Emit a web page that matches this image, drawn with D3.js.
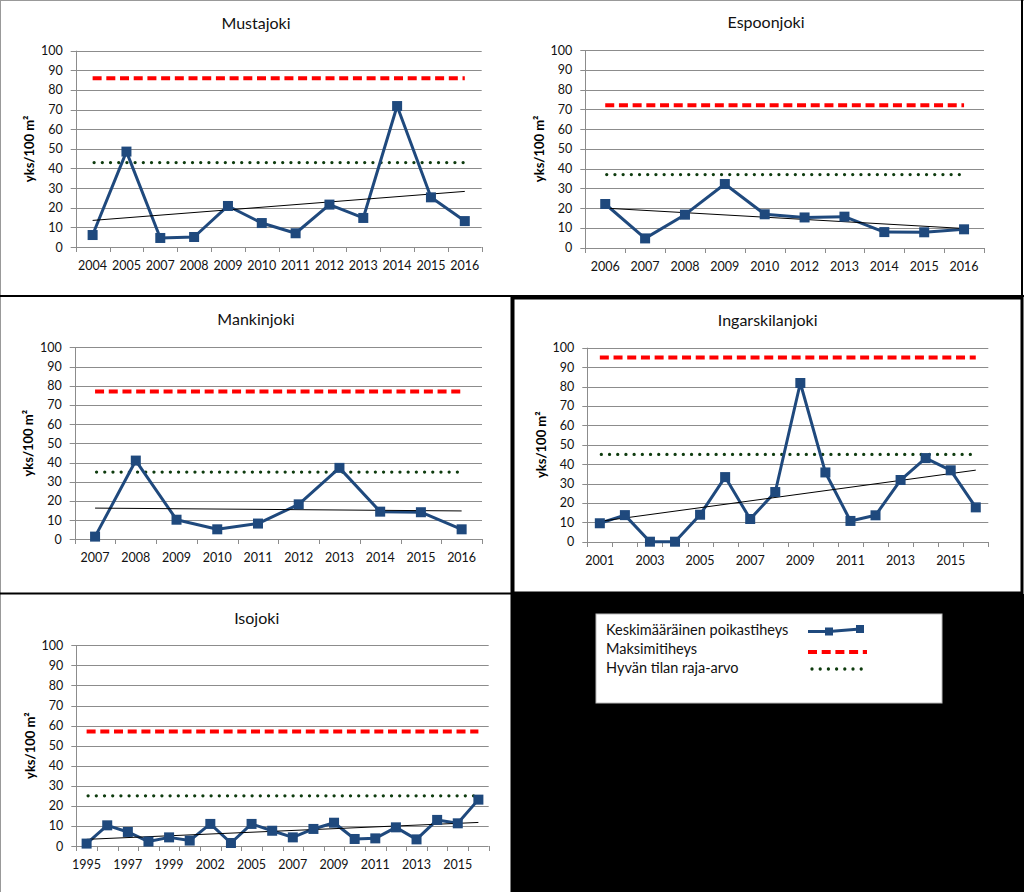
<!DOCTYPE html>
<html><head><meta charset="utf-8">
<script src="https://cdn.jsdelivr.net/npm/d3@7"></script>
<style>
body{margin:0;background:#fff;}
svg{display:block;font-family:Lato,'Open Sans',sans-serif;}
</style>
</head><body>
<svg id="c" width="1024" height="892"></svg>
<script>
// ---------- DATA ----------
const titles = ["Mustajoki","Espoonjoki","Mankinjoki","Ingarskilanjoki","Isojoki"];

const mustajokiYears  = ["2004","2005","2007","2008","2009","2010","2011","2012","2013","2014","2015","2016"];
const mustajokiValues = [6.1,48.6,4.6,5.1,20.9,12.2,7.0,21.6,14.8,71.8,25.3,13.2];

const espoonjokiYears  = ["2006","2007","2008","2009","2010","2012","2013","2014","2015","2016"];
const espoonjokiValues = [22.1,4.7,16.7,32.2,16.9,15.3,15.7,7.9,7.8,9.3];

const mankinjokiYears  = ["2007","2008","2009","2010","2011","2012","2013","2014","2015","2016"];
const mankinjokiValues = [1.4,41.0,10.2,5.2,8.2,18.2,37.2,14.4,14.1,5.2];

const ingarskilanjokiYears  = ["2001","2002","2003","2004","2005","2006","2007","2008","2009","2010","2011","2012","2013","2014","2015","2016"];
const ingarskilanjokiValues = [9.5,13.7,0,0,13.9,33.3,11.7,25.6,81.8,35.7,10.7,13.6,31.8,43.1,36.8,17.7];

const isojokiYears  = ["1995","1996","1997","1998","1999","2000","2002","2004","2005","2006","2007","2008","2009","2010","2011","2012","2013","2014","2015","2016"];
const isojokiValues = [1.2,10.3,7.0,2.2,4.3,2.7,11.0,1.5,11.0,7.6,4.3,8.5,11.6,3.5,3.8,9.3,3.3,13.0,11.3,23.1];

const maxDensity = [86, 72, 77, 95, 57];      // Maksimitiheys
const goodLimit  = [43, 37, 35, 45, 25];      // Hyvän tilan raja-arvo
const yTicks = [0,10,20,30,40,50,60,70,80,90,100];
const yTitle = "yks/100 m²";
const legendLabels = ["Keskimääräinen poikastiheys","Maksimitiheys","Hyvän tilan raja-arvo"];

const yearsList  = [mustajokiYears, espoonjokiYears, mankinjokiYears, ingarskilanjokiYears, isojokiYears];
const valuesList = [mustajokiValues, espoonjokiValues, mankinjokiValues, ingarskilanjokiValues, isojokiValues];

// ---------- LAYOUT / STYLE ----------
const layout = [
  {plot:{l:75.7,r:481.7,t:50.7,b:247},   title:[256,23],    labelEvery:1},
  {plot:{l:585.3,r:984,t:50,b:247.7},    title:[766,22],    labelEvery:1},
  {plot:{l:74.7,r:482,t:347.3,b:539.3},  title:[256,319],   labelEvery:1},
  {plot:{l:587.3,r:988.3,t:347.7,b:541.7},title:[767.7,320.7],labelEvery:2},
  {plot:{l:76.3,r:488.7,t:645.3,b:846},  title:[256.7,618], labelEvery:2}
];
const BLUE = "#1F497D", RED = "#FF0000", GREEN = "#0E3B0E", GRID = "#8C8C8C";

const svg = d3.select("#c");

// background frames
svg.append("rect").attr("x",0).attr("y",0).attr("width",1024).attr("height",892).attr("fill","#fff");
svg.append("rect").attr("x",512).attr("y",594).attr("width",512).attr("height",298).attr("fill","#000");

const frames = svg.append("g").attr("fill","none");
frames.append("line").attr("x1",0.5).attr("y1",0).attr("x2",0.5).attr("y2",892).attr("stroke","#999");
frames.append("line").attr("x1",0).attr("y1",0.5).attr("x2",1024).attr("y2",0.5).attr("stroke","#999");
frames.append("line").attr("x1",0).attr("y1",296).attr("x2",1024).attr("y2",296).attr("stroke","#000").attr("stroke-width",2);
frames.append("line").attr("x1",1022).attr("y1",0).attr("x2",1022).attr("y2",296).attr("stroke","#000").attr("stroke-width",2);
frames.append("line").attr("x1",511.5).attr("y1",296).attr("x2",511.5).attr("y2",892).attr("stroke","#000").attr("stroke-width",2);
frames.append("line").attr("x1",0).attr("y1",593.5).attr("x2",512).attr("y2",593.5).attr("stroke","#000").attr("stroke-width",2);
frames.append("rect").attr("x",513).attr("y",298).attr("width",509).attr("height",295).attr("stroke","#000").attr("stroke-width",3);

function drawPanel(i){
  const L = layout[i], p = L.plot;
  const years = yearsList[i], vals = valuesList[i];
  const g = svg.append("g");
  const x = d3.scaleBand().domain(years).range([p.l,p.r]).padding(0);
  const y = d3.scaleLinear().domain([0,100]).range([p.b,p.t]);
  const cx = d => x(d)+x.bandwidth()/2;

  g.append("g").selectAll("line").data(yTicks).join("line")
    .attr("x1",p.l-5).attr("x2",p.r).attr("y1",d=>Math.round(y(d))+0.5).attr("y2",d=>Math.round(y(d))+0.5)
    .attr("stroke",GRID).attr("stroke-width",1);
  g.append("line").attr("x1",Math.round(p.l)+0.5).attr("x2",Math.round(p.l)+0.5).attr("y1",p.t).attr("y2",p.b+0.5)
    .attr("stroke",GRID);
  const bounds = years.map(d=>x(d)).concat([p.r]);
  g.append("g").selectAll("line").data(bounds).join("line")
    .attr("x1",d=>Math.round(d)+0.5).attr("x2",d=>Math.round(d)+0.5)
    .attr("y1",Math.round(p.b)).attr("y2",Math.round(p.b)+5).attr("stroke",GRID);

  g.append("g").selectAll("text").data(yTicks).join("text")
    .attr("x",p.l-13).attr("y",d=>y(d)).attr("dy","0.36em").attr("text-anchor","end")
    .attr("font-size",12.5).attr("fill","#111").text(d=>d);
  g.append("g").selectAll("text").data(years.filter((d,k)=>k%L.labelEvery===0)).join("text")
    .attr("x",d=>cx(d)).attr("y",p.b+18.3).attr("dy","0.36em").attr("text-anchor","middle")
    .attr("font-size",12.5).attr("fill","#111").text(d=>d);
  g.append("text").attr("transform",`translate(${p.l-46},${(p.t+p.b)/2}) rotate(-90)`)
    .attr("text-anchor","middle").attr("dy","0.36em").attr("font-size",13).attr("font-weight","bold")
    .text(yTitle);
  g.append("text").attr("x",L.title[0]).attr("y",L.title[1]).attr("dy","0.36em").attr("text-anchor","middle")
    .attr("font-size",16).attr("fill","#111").text(titles[i]);

  const x0 = cx(years[0]), x1 = cx(years[years.length-1]);
  g.append("line").attr("x1",x0).attr("x2",x1).attr("y1",y(maxDensity[i])).attr("y2",y(maxDensity[i]))
    .attr("stroke",RED).attr("stroke-width",4).attr("stroke-dasharray","9,4.7");
  g.append("line").attr("x1",x0+1.5).attr("x2",x1).attr("y1",y(goodLimit[i])).attr("y2",y(goodLimit[i]))
    .attr("stroke",GREEN).attr("stroke-width",3.3).attr("stroke-linecap","round").attr("stroke-dasharray","0,8.2");

  const pts = years.map((d,k)=>[cx(d), y(vals[k])]);
  g.append("path").attr("d",d3.line()(pts)).attr("fill","none").attr("stroke",BLUE).attr("stroke-width",3)
    .attr("stroke-linejoin","round");
  // linear trend (least squares on category index)
  const n = vals.length, idx = d3.range(1,n+1);
  const mx = d3.mean(idx), my = d3.mean(vals);
  const sxy = d3.sum(idx,(k,j)=>(k-mx)*(vals[j]-my)), sxx = d3.sum(idx,k=>(k-mx)*(k-mx));
  const slope = sxy/sxx, icpt = my - slope*mx;
  g.append("line").attr("x1",x0).attr("x2",x1).attr("y1",y(icpt+slope*1)).attr("y2",y(icpt+slope*n))
    .attr("stroke","#000").attr("stroke-width",1);
  g.append("g").selectAll("rect").data(pts).join("rect")
    .attr("x",d=>d[0]-5).attr("y",d=>d[1]-5).attr("width",10).attr("height",10).attr("fill",BLUE);
}
for(let i=0;i<5;i++) drawPanel(i);

// ---------- LEGEND ----------
const lg = svg.append("g");
lg.append("rect").attr("x",596).attr("y",614).attr("width",346).attr("height",89).attr("fill","#fff").attr("stroke","#bbb");
const ly = [629.5,648.7,667.7];
lg.selectAll("text").data(legendLabels).join("text")
  .attr("x",606).attr("y",(d,k)=>ly[k]).attr("dy","0.36em").attr("font-size",14.5).attr("fill","#111").text(d=>d);
lg.append("path").attr("d",d3.line()([[808,631.5],[829,631.5],[860,629]])).attr("fill","none").attr("stroke",BLUE).attr("stroke-width",3);
lg.selectAll("rect.m").data([[829,631.5],[860,629]]).join("rect").attr("class","m")
  .attr("x",d=>d[0]-4).attr("y",d=>d[1]-4).attr("width",8).attr("height",8).attr("fill",BLUE);
lg.append("line").attr("x1",808).attr("x2",867).attr("y1",652).attr("y2",652).attr("stroke",RED).attr("stroke-width",4).attr("stroke-dasharray","9,4.7");
lg.append("line").attr("x1",812).attr("x2",865).attr("y1",669).attr("y2",669).attr("stroke",GREEN).attr("stroke-width",3.3)
  .attr("stroke-linecap","round").attr("stroke-dasharray","0,8.2");
</script>
</body></html>
